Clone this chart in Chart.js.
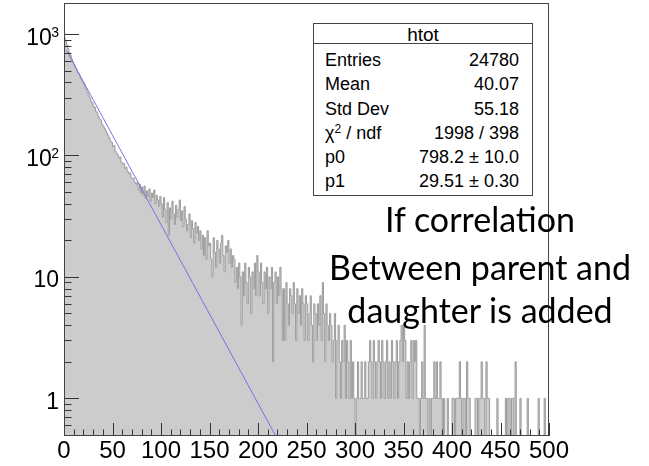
<!DOCTYPE html>
<html>
<head>
<meta charset="utf-8">
<script src="https://cdn.jsdelivr.net/npm/chart.js@4.4.1/dist/chart.umd.min.js"></script>
<style>
  body { margin: 0; background: #fff; }
  #wrap { position: relative; width: 649px; height: 466px; overflow: hidden; }
  #stats {
    position: absolute; left: 313px; top: 23px; width: 220px; height: 173px;
    box-sizing: border-box; border: 1px solid #444; background: #fff;
    font-family: "Liberation Sans", Arial, sans-serif; font-size: 18px; color: #000;
  }
  #stats .title {
    position: absolute; left: 0; top: 0; width: 100%; height: 19px;
    border-bottom: 1px solid #444; text-align: center; font-size: 19px; line-height: 22px;
  }
  #stats .row {
    position: absolute; left: 11px; right: 13px; height: 24.3px; line-height: 24.3px;
    display: flex; justify-content: space-between; white-space: nowrap;
  }
  #stats sup { font-size: 12px; vertical-align: 6px; line-height: 0; }
  .note {
    position: absolute; left: 300px; width: 360px; text-align: center;
    font-family: Lato, "Open Sans", sans-serif; font-size: 34px; line-height: 40px;
    color: #000; white-space: nowrap;
  }
</style>
</head>
<body>
<div id="wrap">
  <canvas id="hist" width="649" height="466"></canvas>
  <div id="stats">
    <div class="title">htot</div>
    <div class="row" style="top:23.9px"><span>Entries</span><span>24780</span></div>
    <div class="row" style="top:48.2px"><span>Mean</span><span>40.07</span></div>
    <div class="row" style="top:72.5px"><span>Std Dev</span><span>55.18</span></div>
    <div class="row" style="top:96.8px"><span>χ<sup>2</sup> / ndf</span><span>1998 / 398</span></div>
    <div class="row" style="top:121.1px"><span>p0</span><span>798.2 ± 10.0</span></div>
    <div class="row" style="top:145.4px"><span>p1</span><span>29.51 ± 0.30</span></div>
  </div>
  <div class="note" style="top:199px">If correlation</div>
  <div class="note" style="top:247px">Between parent and</div>
  <div class="note" style="top:290px">daughter is added</div>
</div>
<script>
// htot: 400 bins of 1.25 from 0 to 500
const binWidth = 1.25;
const xMin = 0;
const xMax = 500;

const counts = [
  935, 890, 812, 760, 701, 668, 622, 590, 561, 529, 508, 481, 470, 442, 419, 401, 387, 361, 352, 330,
  310, 298, 279, 270, 255, 248, 230, 224, 210, 200, 196, 181, 175, 168, 160, 152, 146, 140, 131, 128,
  118, 121, 108, 104, 101, 95, 97, 88, 85, 86, 78, 80, 74, 71, 72, 66, 64, 65, 60, 58,
  60, 52, 58, 49, 55, 47, 56, 44, 51, 46, 53, 42, 49, 45, 52, 40, 47, 43, 38, 46,
  40, 31, 45, 36, 28, 41, 22, 37, 30, 42, 33, 27, 39, 31, 36, 43, 29, 35, 26, 38,
  30, 24, 27, 33, 21, 29, 25, 19, 28, 23, 26, 20, 24, 17, 22, 15, 21, 14, 24, 18,
  19, 14, 10, 21, 16, 12, 20, 17, 13, 19, 22, 15, 11, 18, 16, 20, 13, 17, 12, 15,
  14, 9, 12, 8, 13, 10, 4, 11, 7, 13, 9, 6, 12, 10, 5, 11, 8, 13, 7, 15,
  11, 7, 13, 9, 6, 11, 8, 12, 5, 10, 8, 12, 2, 9, 11, 6, 10, 7, 12, 8,
  3, 8, 3, 9, 6, 4, 8, 7, 5, 9, 6, 3, 8, 5, 7, 4, 8, 6, 3, 7,
  6, 3, 5, 7, 4, 2, 6, 5, 3, 6, 4, 7, 3, 9, 5, 2, 6, 4, 3, 5,
  4, 2, 3, 5, 1, 3, 4, 2, 1, 3, 2, 4, 1, 3, 2, 1, 3, 1, 2, 1,
  0, 1, 2, 1, 1, 2, 1, 1, 2, 1, 1, 2, 3, 2, 1, 3, 2, 1, 2, 3,
  2, 1, 3, 2, 1, 2, 3, 1, 2, 1, 3, 2, 1, 2, 3, 1, 2, 3, 4, 2,
  4, 3, 1, 2, 1, 2, 3, 1, 3, 2, 3, 1, 1, 0, 1, 2, 1, 4, 1, 1,
  0, 1, 0, 1, 1, 2, 1, 2, 1, 1, 2, 1, 0, 1, 0, 0, 1, 0, 0, 0,
  1, 1, 0, 1, 1, 1, 2, 1, 0, 1, 1, 0, 2, 1, 1, 0, 0, 0, 0, 1,
  1, 0, 1, 1, 2, 1, 1, 0, 2, 1, 1, 0, 0, 0, 0, 0, 0, 1, 0, 0,
  0, 0, 0, 0, 1, 0, 1, 1, 0, 1, 1, 0, 2, 0, 0, 0, 1, 0, 0, 0,
  0, 0, 1, 0, 0, 0, 0, 0, 0, 0, 0, 1, 0, 0, 0, 0, 1, 0, 0, 0
];

// fit: p0 * exp(-x / p1)
const p0 = 798.2;
const p1 = 29.51;
const fitStart = 2.5;
const fitEnd = 250;

const xTickValues = [0, 50, 100, 150, 200, 250, 300, 350, 400, 450, 500];
// y labels: mantissa text + exponent drawn as superscript
const yTickValues = [1, 10, 100, 1000];
const yTickBases = ['1', '10', '10', '10'];
const yTickExps = ['', '', '2', '3'];

const yMin = 0.49;
const yMax = 1800;
// empty bins sit below the axis so only their edges show
const emptyLevel = 1e-3;

const histPoints = counts.map((c, i) => ({ x: xMin + i * binWidth, y: c > 0 ? c : emptyLevel }));
histPoints.push({ x: xMax, y: histPoints[histPoints.length - 1].y });

const fitPoints = [];
for (let x = fitStart; x <= fitEnd; x += 2.5) {
  fitPoints.push({ x: x, y: p0 * Math.exp(-x / p1) });
}

const fontFamily = "'Liberation Sans', Arial, sans-serif";
Chart.defaults.font.family = fontFamily;
Chart.defaults.color = '#000';

const frameAndTicks = {
  id: 'frameAndTicks',
  afterDatasetsDraw(chart) {
    const { ctx, chartArea: a, scales: { x, y } } = chart;
    ctx.save();
    ctx.strokeStyle = '#333';
    ctx.lineWidth = 1;
    ctx.beginPath();
    for (let v = xMin; v <= xMax; v += 10) {
      const px = Math.round(x.getPixelForValue(v)) + 0.5;
      const len = v % 50 === 0 ? 13 : 6.5;
      ctx.moveTo(px, a.bottom);
      ctx.lineTo(px, a.bottom - len);
    }
    for (let e = -1; e <= 3; e++) {
      for (let m = 1; m <= 9; m++) {
        const v = m * Math.pow(10, e);
        if (v < y.min || v > y.max) continue;
        const py = Math.round(y.getPixelForValue(v)) + 0.5;
        const len = m === 1 ? 15 : 7.5;
        ctx.moveTo(a.left, py);
        ctx.lineTo(a.left + len, py);
      }
    }
    ctx.stroke();
    ctx.strokeStyle = '#444';
    ctx.strokeRect(a.left + 0.5, a.top + 0.5, a.right - a.left - 1, a.bottom - a.top - 1);

    // y labels, right aligned next to the axis
    ctx.fillStyle = '#000';
    ctx.textAlign = 'right';
    ctx.textBaseline = 'alphabetic';
    const right = a.left - 5;
    yTickValues.forEach((v, i) => {
      const py = y.getPixelForValue(v);
      let r = right;
      if (yTickExps[i]) {
        ctx.font = '14px ' + fontFamily;
        ctx.fillText(yTickExps[i], r, py + 2.5);
        r -= ctx.measureText(yTickExps[i]).width - 0.5;
      }
      ctx.font = '23px ' + fontFamily;
      ctx.fillText(yTickBases[i], r, py + 10.5);
    });
    ctx.restore();
  }
};

new Chart(document.getElementById('hist'), {
  type: 'line',
  data: {
    datasets: [
      {
        label: 'fit',
        data: fitPoints,
        borderColor: '#7272e2',
        borderWidth: 1,
        pointRadius: 0,
        tension: 0,
        fill: false
      },
      {
        label: 'htot',
        data: histPoints,
        stepped: true,
        borderColor: '#9c9c9c',
        borderWidth: 1,
        backgroundColor: '#cccccc',
        pointRadius: 0,
        fill: 'start'
      }
    ]
  },
  options: {
    responsive: false,
    animation: false,
    events: [],
    layout: { padding: { top: 3, right: 100, left: 0, bottom: 0 } },
    plugins: { legend: { display: false }, tooltip: { enabled: false } },
    scales: {
      x: {
        type: 'linear',
        min: xMin,
        max: xMax,
        afterBuildTicks: (s) => { s.ticks = xTickValues.map(v => ({ value: v })); },
        afterFit: (s) => { s.height = 30; s.paddingLeft = 0; s.paddingRight = 0; },
        ticks: { autoSkip: false, maxRotation: 0, font: { size: 24 }, padding: 1 },
        grid: { display: false, drawTicks: false },
        border: { display: false }
      },
      y: {
        type: 'logarithmic',
        min: yMin,
        max: yMax,
        afterBuildTicks: (s) => { s.ticks = yTickValues.map(v => ({ value: v })); },
        afterFit: (s) => { s.width = 64; s.paddingTop = 0; s.paddingBottom = 0; },
        ticks: { display: false },
        grid: { display: false, drawTicks: false },
        border: { display: false }
      }
    }
  },
  plugins: [frameAndTicks]
});
</script>
</body>
</html>
